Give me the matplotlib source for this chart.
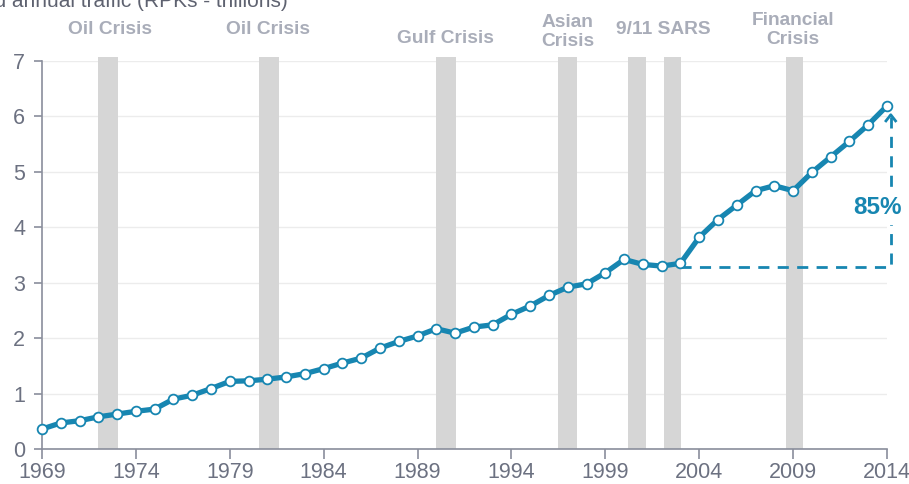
import matplotlib
matplotlib.use("Agg")
import matplotlib.pyplot as plt

# ---------- data ----------
years = list(range(1969, 2015))
traffic = [0.36, 0.47, 0.51, 0.58, 0.63, 0.68, 0.72, 0.90, 0.97, 1.09,
           1.22, 1.23, 1.26, 1.30, 1.36, 1.45, 1.55, 1.64, 1.82, 1.94,
           2.04, 2.17, 2.09, 2.20, 2.24, 2.43, 2.58, 2.77, 2.92, 2.98,
           3.18, 3.42, 3.33, 3.30, 3.35, 3.82, 4.14, 4.40, 4.66, 4.75,
           4.66, 4.99, 5.27, 5.55, 5.85, 6.19]

crisis_start = [1972.0, 1980.55, 1990.0, 1996.5, 2000.2, 2002.1, 2008.6]
crisis_end = [1973.05, 1981.6, 1991.05, 1997.47, 2001.16, 2003.05, 2009.5]
crisis_labels = ["Oil Crisis", "Oil Crisis", "Gulf Crisis", "Asian\nCrisis",
                 "9/11 SARS", "Financial\nCrisis"]
label_x = [1972.6, 1981.05, 1990.5, 1997.0, 2002.1, 2009.0]
label_y = [7.56, 7.56, 7.41, 7.52, 7.56, 7.56]

base_year, base_val = 2003, 3.29
growth_label = "85%"

teal = "#1786b1"
grey_txt = "#a9adb9"
tick_col = "#6c7181"

fig = plt.figure(figsize=(9.09, 4.84), dpi=100)
ax = fig.add_axes([42 / 909, 35 / 484, 845 / 909, 388 / 484])

for s, e in zip(crisis_start, crisis_end):
    ax.axvspan(s, e, ymin=0, ymax=1.01, color="#d6d6d6", lw=0, zorder=1, clip_on=False)

for lab, x, y in zip(crisis_labels, label_x, label_y):
    ax.text(x, y, lab, ha="center", va="center", fontsize=13.8, fontweight="bold",
            color=grey_txt, family="Liberation Sans", linespacing=1.15)

ax.set_xlim(1969, 2014)
ax.set_ylim(0, 7)
ax.set_yticks(range(0, 8))
ax.set_xticks(range(1969, 2015, 5))
ax.yaxis.grid(True, color="#ececec", lw=1)
ax.set_axisbelow(True)

for side in ["top", "right"]:
    ax.spines[side].set_visible(False)
for side in ["left", "bottom"]:
    ax.spines[side].set_color("#8a8e9c")
    ax.spines[side].set_linewidth(1.2)
ax.tick_params(axis="x", length=7, width=1.2, color="#8a8e9c", labelsize=15.5,
               labelcolor=tick_col, pad=2)
ax.tick_params(axis="y", length=6, width=1.2, color="#8a8e9c", labelsize=15.5,
               labelcolor=tick_col, pad=6)
for lbl in ax.get_xticklabels() + ax.get_yticklabels():
    lbl.set_family("Liberation Sans")

# dashed growth guide
end_x = 2014.2
ax.plot([base_year, end_x, end_x], [base_val, base_val, 6.0], ls=(0, (4, 3)),
        color=teal, lw=2, clip_on=False, zorder=2)
ax.plot([end_x - 0.3, end_x, end_x + 0.3], [5.9, 6.03, 5.9], color=teal, lw=2,
        clip_on=False, zorder=2, solid_capstyle="butt")
ax.text(2013.5, 4.35, growth_label, ha="center", va="center", fontsize=17.5,
        fontweight="bold", color=teal, family="Liberation Sans", zorder=4,
        bbox=dict(boxstyle="square,pad=0.25", fc="white", ec="none"))

ax.plot(years, traffic, color=teal, lw=3.8, marker="o", markersize=7,
        markerfacecolor="white", markeredgecolor=teal, markeredgewidth=1.3,
        clip_on=False, zorder=5)

fig.text(288 / 909, 1 - 7 / 484, "World annual traffic (RPKs - trillions)",
         ha="right", va="baseline", fontsize=15, color="#5e6270",
         family="Liberation Sans")

fig.savefig("out.png", dpi=100)
